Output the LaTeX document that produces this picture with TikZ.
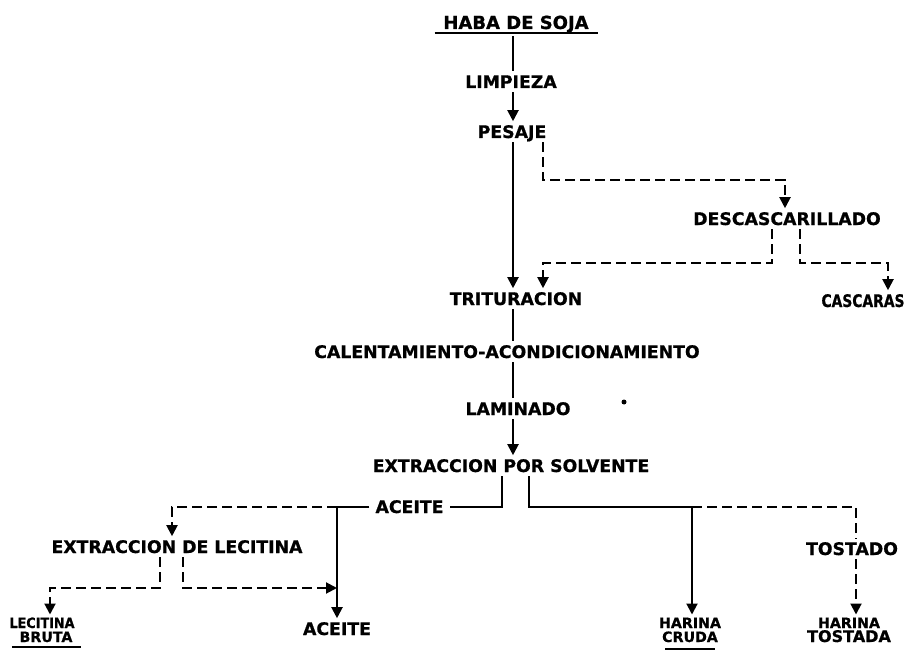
\documentclass[tikz,border=0pt]{standalone}
\usepackage{fontspec}
\setmainfont{DejaVu Sans}[BoldFeatures={FakeBold=0.8}]
\usetikzlibrary{arrows.meta,calc}
\begin{document}
\begin{tikzpicture}[x=1pt,y=-1pt,
  lbl/.style={font=\bfseries\fontsize{17.3}{18}\selectfont, inner xsep=3pt, inner ysep=4pt,
              text height=12.6pt, text depth=0pt, anchor=base},
  lblsm/.style={lbl, font=\bfseries\fontsize{14.2}{15}\selectfont, text height=10.3pt, inner ysep=3pt},
  wire/.style={line width=2pt},
  flow/.style={wire, -{Triangle[length=11pt,width=11pt]}},
  broken/.style={dash pattern=on 10pt off 5pt}]
\useasboundingbox (0,0) rectangle (905,650);

% process steps
\node[lbl, font=\bfseries\fontsize{18}{19}\selectfont, text height=13pt] (haba) at (516,29) {HABA DE SOJA};
\node[lbl] (limp) at (511,88) {LIMPIEZA};
\node[lbl] (pes) at (512,138) {PESAJE};
\node[lbl] (desc) at (787,225) {DESCASCARILLADO};
\node[lbl] (trit) at (516,305) {TRITURACION};
\node[lbl] (casc) at (863,307) {\scalebox{0.8}[1]{CASCARAS}};
\node[lbl] (cal) at (507,358) {CALENTAMIENTO-ACONDICIONAMIENTO};
\node[lbl] (lam) at (518,415) {LAMINADO};
\node[lbl] (ext) at (511,472) {EXTRACCION POR SOLVENTE};
\node[lbl, inner xsep=6pt] (ace) at (409.5,513) {ACEITE};
\node[lbl] (lext) at (177,553) {EXTRACCION DE LECITINA};
\node[lbl] (tost) at (852,555) {TOSTADO};
\node[lbl] (ace2) at (337,635) {ACEITE};

% final products
\node[lblsm] (lec) at (42,628) {\scalebox{0.9}[1]{LECITINA}};
\node[lblsm] (bru) at (46,642) {BRUTA};
\node[lblsm] (har1) at (690,628) {HARINA};
\node[lblsm] (cru) at (690,642) {CRUDA};
\node[lblsm] (har2) at (849,628) {HARINA};
\node[lblsm, font=\bfseries\fontsize{16}{17}\selectfont, text height=11.7pt] (tosa) at (849,642) {TOSTADA};

% underlines
\draw[line width=1.6pt] ($(haba.base west)+(-5.5,4)$) -- ($(haba.base east)+(6.5,4)$);
\draw[line width=1.4pt] ($(bru.base west)+(-4.5,5)$) -- ($(bru.base east)+(5,5)$);
\draw[line width=1.4pt] ($(cru.base west)+(6.5,7)$) -- ($(cru.base east)+(-6.5,7)$);

% main line
\coordinate (tr) at (513,0);
\draw[wire, shorten <=3pt] (haba.south -| tr) -- (limp.north -| tr);
\draw[flow] (limp.south -| tr) -- (pes.north -| tr);
\draw[flow] (pes.south -| tr) -- (trit.north -| tr);
\draw[wire] (trit.south -| tr) -- (cal.north -| tr);
\draw[wire] (cal.south -| tr) -- (lam.north -| tr);
\draw[flow] (lam.south -| tr) -- (ext.north -| tr);

% dehulling branch
\coordinate (b1) at (543,180);
\coordinate (b2) at (785,180);
\draw[flow, broken] (pes.south -| b1) -- (b1) -- (b2) -- (b2 |- desc.north);
\coordinate (b3) at (772,263);
\coordinate (b4) at (543,263);
\draw[flow, broken] (desc.south -| b3) -- (b3) -- (b4) -- (b4 |- trit.north);
\coordinate (b5) at (800,263);
\coordinate (b6) at (888,263);
\draw[flow, broken] (desc.south -| b5) -- (b5) -- (b6) -- (b6 |- casc.north);

% oil side
\coordinate (c1) at (502,507);
\draw[wire] (ext.south -| c1) -- (c1) -- (ace.east |- c1);
\coordinate (c2) at (337,507);
\draw[flow] (ace.west |- c2) -- (c2) -- (c2 |- ace2.north);
\coordinate (c3) at (172,507);
\draw[flow, broken] (c2) -- (c3) -- (c3 |- lext.north);
\coordinate (c4) at (160,588);
\coordinate (c5) at (50,588);
\draw[flow, broken] (lext.south -| c4) -- (c4) -- (c5) -- (c5 |- lec.north);
\coordinate (c6) at (183,588);
\draw[flow, broken] (lext.south -| c6) -- (c6) -- (c6 -| c2);

% meal side
\coordinate (c7) at (529,507);
\coordinate (c8) at (692,507);
\coordinate (c9) at (856,507);
\draw[wire] (ext.south -| c7) -- (c7) -- (c8);
\draw[flow] (c8) -- (c8 |- har1.north);
\draw[wire, broken] (c8) -- (c9) -- (c9 |- tost.north);
\draw[flow, broken] (tost.south -| c9) -- (c9 |- har2.north);

% stray mark
\fill (624,402) circle (2.5);
\end{tikzpicture}
\end{document}
